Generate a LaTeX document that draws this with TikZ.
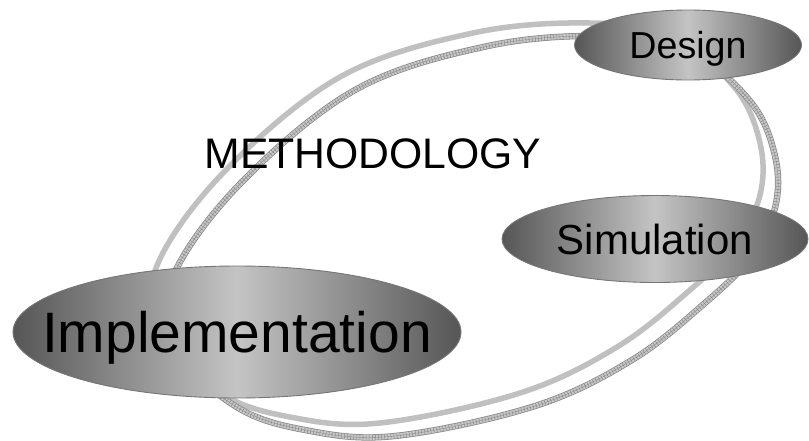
\documentclass[tikz,border=0pt]{standalone}
\usepackage{fontspec}
\setmainfont{Liberation Sans}
\usetikzlibrary{shapes.geometric}
\definecolor{ringgray}{RGB}{192,192,192}
\definecolor{hatchdark}{RGB}{135,135,135}
\definecolor{hatchlight}{RGB}{200,200,200}
\definecolor{edgegray}{RGB}{86,86,86}
\definecolor{midgray}{RGB}{196,196,196}
\definecolor{bordergray}{RGB}{118,118,118}
\begin{document}
\begin{tikzpicture}[x=1pt,y=-1pt,
  phase/.style={ellipse, draw=bordergray, line width=0.9pt,
    left color=edgegray, right color=edgegray, middle color=midgray,
    inner sep=0pt, outer sep=0pt, text depth=0pt, text=black},
  solidring/.style={draw=ringgray, line width=5.5pt},
  hatchfill/.style={draw=hatchlight, line width=4.8pt},
  hatchticks/.style={draw=hatchdark, line width=4.8pt, dash pattern=on 0.5pt off 2.6pt},
  hatchmid/.style={draw=hatchdark, line width=0.35pt},
  hatchring/.style={draw=hatchdark, line width=6.3pt,
    postaction=hatchfill, postaction=hatchticks, postaction=hatchmid},
  title/.style={inner sep=0pt, text depth=0pt, text=black}]
\useasboundingbox (0,0) rectangle (809,440);
% rings (the hatched ring is the plain ring shifted down and right)
\draw[solidring] plot[smooth cycle, tension=0.6] coordinates {
  (473,33) (590,23) (672,36) (735,88) (760,143) (760,195) (735,245) (690,290)
  (617,347) (520,393) (380,423) (290,417) (220,393) (160,335) (156,268)
  (223,173) (340,77)};
\begin{scope}[shift={(15,13)}]
\draw[hatchring] plot[smooth cycle, tension=0.6] coordinates {
  (473,33) (590,23) (672,36) (735,88) (760,143) (760,195) (735,245) (690,290)
  (617,347) (520,393) (380,423) (290,417) (220,393) (160,335) (156,268)
  (223,173) (340,77)};
\end{scope}
% phases
\node[phase, minimum width=227pt, minimum height=70pt, text height=27pt] (design) at (688,45)
  {\makebox[0pt]{\fontsize{37.6}{40}\selectfont Design}};
\node[phase, minimum width=306pt, minimum height=87pt, text height=30pt] (simulation) at (655,239)
  {\makebox[0pt]{\fontsize{42}{44}\selectfont Simulation}};
\node[phase, minimum width=448pt, minimum height=132pt, text height=41pt] (implementation) at (237,332)
  {\makebox[0pt]{\fontsize{57}{60}\selectfont Implementation}};
\node[title, text height=30.5pt] (methodology) at (373,153)
  {\fontsize{42.7}{45}\selectfont METHODOLOGY};
\end{tikzpicture}
\end{document}
